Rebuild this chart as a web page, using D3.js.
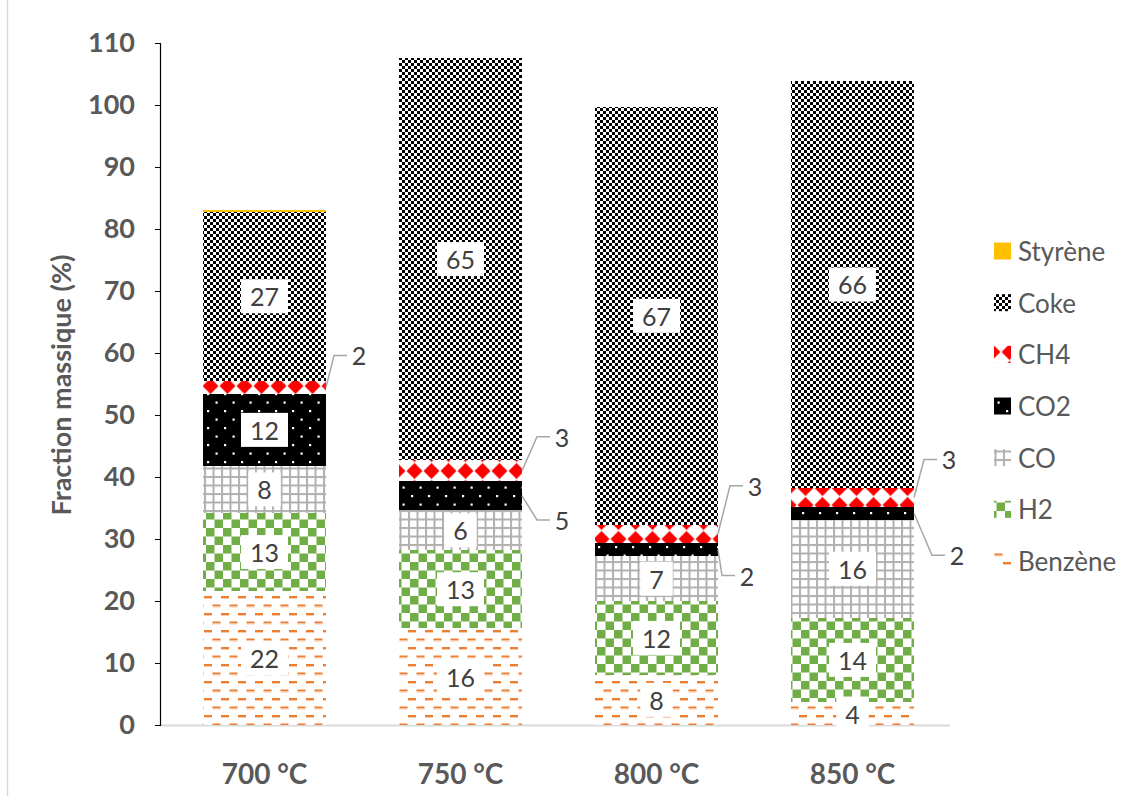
<!DOCTYPE html>
<html>
<head>
<meta charset="utf-8">
<script src="https://cdn.jsdelivr.net/npm/d3@7"></script>
<style>
  html, body { margin: 0; padding: 0; background: #fff; }
  svg { display: block; font-family: Lato, "Open Sans", sans-serif; }
</style>
</head>
<body>
<svg id="chart" width="1137" height="796"></svg>
<script>
// ---- data ----
const categories = ["700 °C", "750 °C", "800 °C", "850 °C"];
const seriesNames = ["Benzène", "H2", "CO", "CO2", "CH4", "Coke", "Styrène"];
const benzene = [21.6, 15.6, 8.1, 3.7];
const h2      = [12.6, 12.6, 11.9, 13.6];
const co      = [7.6, 6.4, 7.2, 15.8];
const co2     = [11.6, 4.7, 2.2, 2.1];
const ch4     = [2.1, 3.4, 2.9, 3.0];
const coke    = [27.3, 64.9, 67.4, 65.7];
const styrene = [0.3, 0, 0, 0];
const yTicks  = [0, 10, 20, 30, 40, 50, 60, 70, 80, 90, 100, 110];
const yTitle  = "Fraction massique (%)";

// ---- layout (not data) ----
const seriesValues = [benzene, h2, co, co2, ch4, coke, styrene];
const fills = ["url(#pBenz)", "url(#pH2)", "url(#pCO)", "url(#pCO2)", "url(#pCH4)", "url(#pCoke)", "#FFC000"];
// offsets of outside labels from (bar right edge, segment centre)
const outside = {
  "CH4|0": [33, -32], "CH4|1": [40, -34], "CO2|1": [40, 24],
  "CH4|2": [37, -48], "CO2|2": [29, 26], "CH4|3": [35, -38], "CO2|3": [43, 42]
};

const svg = d3.select("#chart");
const defs = svg.append("defs");

// Benzène: orange dashed horizontal
{
  const p = defs.append("pattern").attr("id", "pBenz").attr("patternUnits", "userSpaceOnUse")
    .attr("width", 17).attr("height", 17);
  p.append("rect").attr("width", 17).attr("height", 17).attr("fill", "#fff");
  p.append("rect").attr("x", 0).attr("y", 1).attr("width", 8).attr("height", 2).attr("fill", "#ED7D31");
  p.append("rect").attr("x", 0).attr("y", 3).attr("width", 8).attr("height", 1).attr("fill", "#F8CBAD");
  p.append("rect").attr("x", 8.5).attr("y", 9.5).attr("width", 8).attr("height", 2).attr("fill", "#ED7D31");
  p.append("rect").attr("x", 8.5).attr("y", 11.5).attr("width", 8).attr("height", 1).attr("fill", "#F8CBAD");
}
// H2: green large checkerboard
{
  const p = defs.append("pattern").attr("id", "pH2").attr("patternUnits", "userSpaceOnUse")
    .attr("width", 17).attr("height", 17).attr("x", 2).attr("y", 1);
  p.append("rect").attr("width", 17).attr("height", 17).attr("fill", "#fff");
  p.append("rect").attr("width", 8.5).attr("height", 8.5).attr("fill", "#70AD47");
  p.append("rect").attr("x", 8.5).attr("y", 8.5).attr("width", 8.5).attr("height", 8.5).attr("fill", "#70AD47");
}
// CO: gray grid
{
  const p = defs.append("pattern").attr("id", "pCO").attr("patternUnits", "userSpaceOnUse")
    .attr("width", 8.5).attr("height", 8.5);
  p.append("rect").attr("width", 8.5).attr("height", 8.5).attr("fill", "#fff");
  p.append("rect").attr("x", 0).attr("y", 0).attr("width", 2).attr("height", 8.5).attr("fill", "#B3AFAF");
  p.append("rect").attr("x", 0).attr("y", 0).attr("width", 8.5).attr("height", 2).attr("fill", "#B3AFAF");
}
// CO2: black with white dots
{
  const p = defs.append("pattern").attr("id", "pCO2").attr("patternUnits", "userSpaceOnUse")
    .attr("width", 17).attr("height", 17).attr("x", 3).attr("y", 2);
  p.append("rect").attr("width", 17).attr("height", 17).attr("fill", "#000");
  p.append("rect").attr("x", 0).attr("y", 0).attr("width", 2.2).attr("height", 2.2).attr("fill", "#fff");
  p.append("rect").attr("x", 8.5).attr("y", 8.5).attr("width", 2.2).attr("height", 2.2).attr("fill", "#fff");
}
// CH4: red solid diamonds
{
  const p = defs.append("pattern").attr("id", "pCH4").attr("patternUnits", "userSpaceOnUse")
    .attr("width", 17).attr("height", 17).attr("x", -2).attr("y", 3.5);
  p.append("rect").attr("width", 17).attr("height", 17).attr("fill", "#fff");
  p.append("path").attr("d", "M8.5,0.5 L16.5,8.5 L8.5,16.5 L0.5,8.5 Z").attr("fill", "#FF0000");
}
// Coke: small black/white checkerboard
{
  const s = 3;
  const p = defs.append("pattern").attr("id", "pCoke").attr("patternUnits", "userSpaceOnUse")
    .attr("width", 2 * s).attr("height", 2 * s);
  p.append("rect").attr("width", 2 * s).attr("height", 2 * s).attr("fill", "#fff");
  p.append("rect").attr("width", s).attr("height", s).attr("fill", "#000");
  p.append("rect").attr("x", s).attr("y", s).attr("width", s).attr("height", s).attr("fill", "#000");
}

// ---- scales ----
const y = d3.scaleLinear().domain([0, 110]).range([725, 43]);
const x = d3.scaleBand().domain(categories).range([166.5, 950.5])
  .paddingInner(0.3724).paddingOuter(0.1862);

// outer frame line (left)
svg.append("line").attr("x1", 7.5).attr("x2", 7.5).attr("y1", 0).attr("y2", 796)
  .attr("stroke", "#D9D9D9").attr("stroke-width", 1.5);

// baseline
svg.append("line").attr("x1", 160).attr("x2", 950).attr("y1", y(0) + 0.5).attr("y2", y(0) + 0.5)
  .attr("stroke", "#D9D9D9").attr("stroke-width", 2);

// ---- stack ----
const table = categories.map((c, i) => {
  const o = { cat: c };
  seriesNames.forEach((s, k) => { o[s] = seriesValues[k][i]; });
  return o;
});
const stacked = d3.stack().keys(seriesNames)(table);

const gBars = svg.append("g").attr("shape-rendering", "crispEdges");
stacked.forEach((layer, k) => {
  gBars.append("g").attr("fill", fills[k])
    .selectAll("rect").data(layer).join("rect")
    .attr("x", d => x(d.data.cat))
    .attr("width", x.bandwidth())
    .attr("y", d => y(d[1]))
    .attr("height", d => Math.max(0, y(d[0]) - y(d[1])));
});

// ---- data labels ----
const fmt = v => String(Math.round(v));
const gLab = svg.append("g").attr("font-size", 25).attr("fill", "#404040");
stacked.forEach((layer, k) => {
  const name = seriesNames[k];
  if (name === "Styrène") return;
  layer.forEach((d, i) => {
    const v = d[1] - d[0];
    if (v <= 0) return;
    const cy = y((d[0] + d[1]) / 2);
    const key = name + "|" + i;
    if (outside[key]) {
      const x1 = x(d.data.cat) + x.bandwidth();
      const lx = x1 + outside[key][0];
      const ly = cy + outside[key][1];
      svg.append("path")
        .attr("d", `M${x1},${cy} L${lx - 25},${ly} L${lx - 12},${ly}`)
        .attr("fill", "none").attr("stroke", "#A6A6A6").attr("stroke-width", 1.5);
      gLab.append("text").attr("x", lx).attr("y", ly).attr("text-anchor", "middle")
        .attr("dominant-baseline", "central").text(fmt(v));
    } else {
      const cx = x(d.data.cat) + x.bandwidth() / 2;
      const g = gLab.append("g");
      const r = g.append("rect").attr("fill", "#fff");
      const t = g.append("text").attr("x", cx).attr("y", cy).attr("text-anchor", "middle")
        .attr("dominant-baseline", "central").text(fmt(v));
      const w = t.node().getComputedTextLength() + 18;
      r.attr("x", cx - w / 2).attr("y", cy - 17).attr("width", w).attr("height", 34);
    }
  });
});

// ---- y axis ----
const yAxis = svg.append("g").attr("transform", "translate(160,0)")
  .call(d3.axisLeft(y).tickValues(yTicks).tickSize(5).tickPadding(20));
yAxis.select(".domain").attr("stroke", "#000").attr("stroke-width", 1.2);
yAxis.selectAll(".tick line").attr("stroke", "#000");
yAxis.selectAll(".tick text").attr("font-size", 27).attr("font-weight", "bold")
  .attr("fill", "#595959").attr("font-family", "Lato, sans-serif");

// ---- x axis labels ----
svg.append("g").selectAll("text").data(categories).join("text")
  .attr("x", d => x(d) + x.bandwidth() / 2).attr("y", 773)
  .attr("text-anchor", "middle").attr("dominant-baseline", "central")
  .attr("font-size", 28).attr("font-weight", "bold").attr("fill", "#595959")
  .text(d => d);

// ---- y title ----
svg.append("text").attr("transform", "translate(60,385) rotate(-90)")
  .attr("text-anchor", "middle").attr("dominant-baseline", "central")
  .attr("font-size", 27).attr("font-weight", "bold").attr("fill", "#595959")
  .text(yTitle);

// ---- legend ----
const legendOrder = seriesNames.map((s, k) => k).reverse();
const gLeg = svg.append("g");
legendOrder.forEach((k, j) => {
  const ly = 251 + j * 51.67;
  gLeg.append("rect").attr("x", 994).attr("y", ly - 8.5).attr("width", 17).attr("height", 17)
    .attr("fill", fills[k]);
  gLeg.append("text").attr("x", 1018).attr("y", ly).attr("dominant-baseline", "central")
    .attr("font-size", 26).attr("fill", "#595959").text(seriesNames[k]);
});
</script>
</body>
</html>
